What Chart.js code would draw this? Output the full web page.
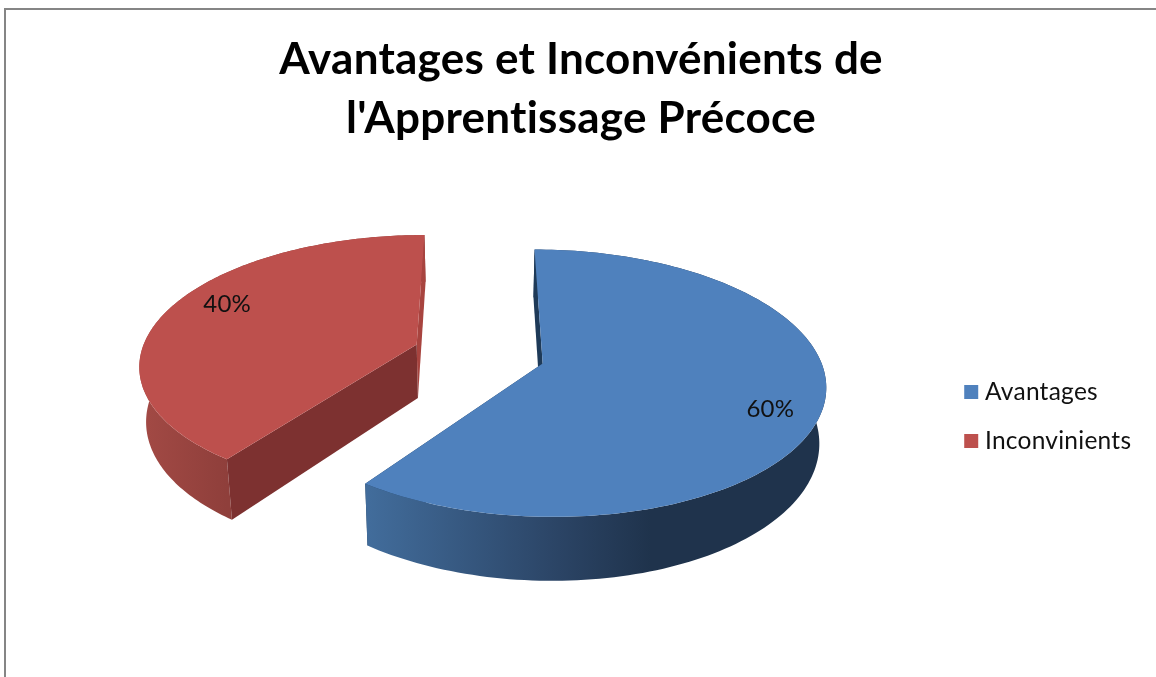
<!DOCTYPE html>
<html><head><meta charset="utf-8">
<script src="https://cdn.jsdelivr.net/npm/chart.js@4"></script>
<style>
html,body{margin:0;padding:0;background:#fff;overflow:hidden}
#frame{position:absolute;left:4px;top:8px;width:1160px;height:680px;border-left:2px solid #858585;border-top:2px solid #858585;box-sizing:border-box}
canvas{position:absolute;left:0;top:0}
</style></head><body>
<div id="frame"></div>
<canvas id="c" width="1156" height="677"></canvas>
<script>
const titleLines = ["Avantages et Inconvénients de", "l'Apprentissage Précoce"];
const categories = ["Avantages", "Inconvinients"];
const values = [60, 40];
const topColors = ["#4f81bd", "#bd504d"];
const cutColors = [["#1e3a58", "#1e3a58"], ["#7d3130", "#a8443f"]];
const wallStops = [
  [[0, "#426d9c"], [0.42, "#2b4465"], [0.62, "#1f334c"], [1, "#1f334c"]],
  [[0, "#a34a45"], [1, "#8f3f3b"]]
];

const view = {x0: 479, y0: 354, a: 276, d: 128, c: -0.145, depth: 54, shrink: 0.98, explode: 0.24};
const labelNudge = [[5, 12], [9, -10]];
const legendDrop = 78;

function project(X, Y, low) {
  const w = 1 + view.c * Y;
  let x = view.x0 + view.a * X / w;
  let y = view.y0 + view.d * Y / w;
  if (low) { x = view.x0 + (x - view.x0) * view.shrink; y += view.depth / w; }
  return [x, y];
}
function trace(ctx, pts) {
  ctx.beginPath();
  pts.forEach((p, i) => i ? ctx.lineTo(p[0], p[1]) : ctx.moveTo(p[0], p[1]));
  ctx.closePath();
}
const pie3d = {
  id: 'pie3d',
  beforeDraw(chart) { chart.ctx.letterSpacing = '0.25px'; },
  afterLayout(chart) { chart.legend.top += legendDrop; chart.legend.bottom += legendDrop; },
  beforeDatasetDraw(chart, args) {
    const ctx = chart.ctx, arcs = chart.getDatasetMeta(args.index).data;
    for (let i = arcs.length - 1; i >= 0; i--) {
      const {startAngle: s, endAngle: e} = arcs[i];
      const m = (s + e) / 2;
      const ox = Math.cos(m) * view.explode, oy = Math.sin(m) * view.explode;
      const rim = [];
      const n = 160;
      for (let k = 0; k <= n; k++) {
        const t = s + (e - s) * k / n;
        rim.push([ox + Math.cos(t), oy + Math.sin(t)]);
      }
      const top = rim.map(p => project(p[0], p[1], false));
      const low = rim.map(p => project(p[0], p[1], true));
      const apex = project(ox, oy, false), apexLow = project(ox, oy, true);
      const drawFace = (idx, color) => {
        ctx.fillStyle = color;
        trace(ctx, [top[idx], apex, apexLow, low[idx]]);
        ctx.fill();
      };
      ctx.save();
      // the lower cut face of the large slice sits behind its own wall
      if (i === 0) drawFace(n, cutColors[i][1]);
      const xs = top.map(p => p[0]);
      const g = i === 0
        ? ctx.createLinearGradient(top[n][0], 0, Math.max(...xs), 0)
        : ctx.createLinearGradient(Math.min(...xs), 0, top[0][0], 0);
      wallStops[i].forEach(st => g.addColorStop(st[0], st[1]));
      ctx.fillStyle = g;
      trace(ctx, top.concat(low.slice().reverse())); ctx.fill();
      if (i === 1) drawFace(n, cutColors[i][1]);
      drawFace(0, cutColors[i][0]);
      // top surface
      ctx.fillStyle = topColors[i];
      trace(ctx, [apex].concat(top)); ctx.fill();
      ctx.restore();
    }
    return false;
  },
  afterDatasetsDraw(chart) {
    const ctx = chart.ctx, arcs = chart.getDatasetMeta(0).data;
    const total = values.reduce((p, v) => p + v, 0);
    ctx.save();
    ctx.font = '24px Lato';
    ctx.fillStyle = '#111';
    ctx.textAlign = 'center';
    ctx.textBaseline = 'middle';
    arcs.forEach((arc, i) => {
      const m = (arc.startAngle + arc.endAngle) / 2;
      const r = view.explode + 0.8;
      const p = project(Math.cos(m) * r, Math.sin(m) * r, false);
      ctx.fillText(Math.round(values[i] / total * 100) + '%', p[0] + labelNudge[i][0], p[1] + labelNudge[i][1]);
    });
    ctx.restore();
  }
};
new Chart(document.getElementById('c'), {
  type: 'pie',
  data: {labels: categories, datasets: [{data: values, backgroundColor: topColors, borderWidth: 0, hoverOffset: 0}]},
  options: {
    responsive: false,
    animation: false,
    layout: {padding: {left: 24, right: 18, top: 0, bottom: 0}},
    plugins: {
      title: {display: true, text: titleLines, color: '#000', font: {family: 'Lato', size: 44, weight: 'bold', lineHeight: 1.35}, padding: {top: 30, bottom: 20}},
      legend: {position: 'right', labels: {font: {family: 'Lato', size: 24.5}, color: '#111', usePointStyle: true, pointStyle: 'rect', boxWidth: 3, boxHeight: 14, padding: 24.5}},
      tooltip: {enabled: false}
    }
  },
  plugins: [pie3d]
});
</script>
</body></html>
